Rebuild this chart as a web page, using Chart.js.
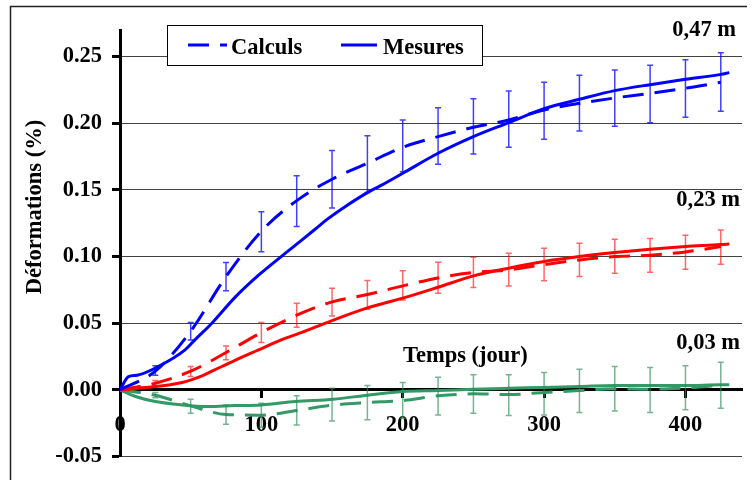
<!DOCTYPE html>
<html><head><meta charset="utf-8">
<script src="https://cdn.jsdelivr.net/npm/chart.js@4.4.0/dist/chart.umd.min.js"></script>
<style>html,body{margin:0;padding:0;background:#fff}canvas{display:block}</style>
</head><body>
<canvas id="c" width="755" height="480"></canvas>
<script>
// ---- data ----
const calcDays = [0,25,50,75,100,125,150,175,200,225,250,275,300,325,350,375,400,425];
const blueCalc = [0,0.014,0.044,0.085,0.119,0.142,0.158,0.170,0.182,0.190,0.197,0.2025,0.210,0.215,0.219,0.2225,0.2263,0.2308];
const redCalc  = [0,0.005,0.014,0.028,0.043,0.056,0.066,0.0715,0.078,0.084,0.088,0.090,0.094,0.0975,0.100,0.101,0.1035,0.1075];
const greenCalc= [0,-0.004,-0.012,-0.0185,-0.019,-0.0155,-0.0115,-0.0095,-0.008,-0.0045,-0.003,-0.0035,-0.002,-0.0005,0.0008,0.0005,0.0015,0.0035];

const errDays = [25,50,75,100,125,150,175,200,225,250,275,300,325,350,375,400,425];
const blueErrLow  = [0.011,0.0375,0.0743,0.1037,0.1225,0.1365,0.148,0.1637,0.1693,0.177,0.182,0.188,0.1943,0.1978,0.2005,0.2045,0.209];
const blueErrHigh = [0.018,0.0505,0.0955,0.1337,0.1607,0.1795,0.1907,0.2025,0.2117,0.2185,0.2243,0.2308,0.236,0.240,0.2435,0.2477,0.253];
const redErrLow   = [0.003,0.010,0.0225,0.0355,0.047,0.0555,0.0605,0.0675,0.0725,0.0768,0.078,0.0818,0.085,0.0875,0.0883,0.0905,0.0943];
const redErrHigh  = [0.007,0.0175,0.033,0.0505,0.065,0.0763,0.082,0.0893,0.0958,0.0995,0.1025,0.1062,0.110,0.113,0.1135,0.116,0.120];
const greenErrLow = [-0.006,-0.0175,-0.0258,-0.028,-0.0263,-0.0233,-0.0225,-0.0213,-0.0188,-0.0175,-0.0193,-0.0188,-0.017,-0.0158,-0.017,-0.015,-0.0138];
const greenErrHigh= [-0.002,-0.007,-0.0113,-0.010,-0.0045,0.0013,0.0033,0.0055,0.0095,0.0113,0.0113,0.013,0.0155,0.0175,0.0168,0.018,0.0207];

const blueMesDays = [0,6,12,27,46,53,65,81,98,114,127,138,146,160,175,184,200,225,250,275,300,325,350,375,400,425,431];
const blueMes     = [0,0.010,0.011,0.0175,0.030,0.0375,0.050,0.069,0.086,0.1,0.111,0.1205,0.1275,0.138,0.148,0.153,0.1625,0.1775,0.190,0.2005,0.211,0.218,0.2245,0.229,0.233,0.2367,0.238];
const redMesDays  = [0,18,44,58,67,81,98,114,127,138,150,175,200,225,250,275,300,325,350,375,400,425,431];
const redMes      = [0,0.0017,0.0055,0.0105,0.015,0.022,0.030,0.0375,0.0425,0.047,0.052,0.0615,0.0688,0.077,0.0855,0.0913,0.0963,0.100,0.103,0.1055,0.1075,0.109,0.1095];
const greenMesDays= [0,11,25,44,62,81,100,124,151,175,200,225,250,275,300,325,350,375,400,425,431];
const greenMes    = [0,-0.005,-0.0088,-0.0113,-0.0125,-0.0118,-0.0113,-0.0088,-0.007,-0.004,-0.0013,-0.0005,0.0005,0.0012,0.0018,0.0025,0.0033,0.0033,0.0033,0.0038,0.0038];

const xTickValues = [0,100,200,300,400];
const seriesLabels = ['Calculs','Mesures'];
const depthLabels = ['0,47 m','0,23 m','0,03 m'];
const xTitle = 'Temps (jour)';
const yTitle = 'Déformations (%)';

// ---- styles ----
const FONT = '"Liberation Serif", "Times New Roman", serif';
const FS = 22.5;
const BLUE = '#0000ff', RED = '#ff0000', GREEN = '#339966';
const DASH = [21, 11];

function pts(days, vals){ return days.map((d,i)=>({x:d, y:vals[i]})); }
function lineDs(label, days, vals, color, dashed){
  return {label, data: pts(days, vals), borderColor: color, backgroundColor: color,
    borderWidth: 3, borderDash: dashed ? DASH : [], pointRadius: 0,
    cubicInterpolationMode: 'monotone', fill: false};
}

const errorSets = [
  {low: blueErrLow, high: blueErrHigh, color: 'rgba(0,0,255,0.75)'},
  {low: redErrLow, high: redErrHigh, color: 'rgba(255,0,0,0.6)'},
  {low: greenErrLow, high: greenErrHigh, color: 'rgba(46,139,87,0.65)'}
];

const decor = {
  id: 'decor',
  afterDatasetsDraw(chart){
    const ctx = chart.ctx, xs = chart.scales.x, ys = chart.scales.y;
    ctx.save();
    ctx.lineWidth = 1.5;
    errorSets.forEach(s=>{
      ctx.strokeStyle = s.color;
      errDays.forEach((d,i)=>{
        const x = xs.getPixelForValue(d);
        const y1 = ys.getPixelForValue(s.low[i]);
        const y2 = ys.getPixelForValue(s.high[i]);
        ctx.beginPath();
        ctx.moveTo(x, y1); ctx.lineTo(x, y2);
        ctx.moveTo(x-3, y1); ctx.lineTo(x+3, y1);
        ctx.moveTo(x-3, y2); ctx.lineTo(x+3, y2);
        ctx.stroke();
      });
    });
    ctx.restore();
  },
  afterDraw(chart){
    const ctx = chart.ctx;
    ctx.save();
    // outer frame (top + left visible)
    ctx.strokeStyle = '#222'; ctx.lineWidth = 1.5;
    ctx.beginPath(); ctx.moveTo(10.5, 480); ctx.lineTo(10.5, 6.5); ctx.lineTo(747, 6.5); ctx.stroke();
    // legend
    ctx.fillStyle = '#fff';
    ctx.fillRect(167, 25, 315, 40);
    ctx.strokeStyle = '#000'; ctx.lineWidth = 1;
    ctx.strokeRect(167.5, 25.5, 315, 40);
    ctx.strokeStyle = BLUE; ctx.lineWidth = 3;
    ctx.setLineDash(DASH);
    ctx.beginPath(); ctx.moveTo(188, 45); ctx.lineTo(227, 45); ctx.stroke();
    ctx.setLineDash([]);
    ctx.beginPath(); ctx.moveTo(341, 45); ctx.lineTo(377, 45); ctx.stroke();
    ctx.fillStyle = '#000';
    ctx.font = 'bold ' + FS + 'px ' + FONT;
    ctx.textBaseline = 'alphabetic';
    ctx.textAlign = 'left';
    ctx.fillText(seriesLabels[0], 231, 54);
    ctx.fillText(seriesLabels[1], 383, 54);
    // depth labels
    ctx.textAlign = 'right';
    ctx.fillText(depthLabels[0], 736, 36);
    ctx.fillText(depthLabels[1], 740, 206);
    ctx.fillText(depthLabels[2], 740, 349);
    // x title
    ctx.textAlign = 'left';
    ctx.fillText(xTitle, 403, 362);
    // y title
    ctx.translate(41, 207);
    ctx.rotate(-Math.PI/2);
    ctx.textAlign = 'center';
    ctx.fillText(yTitle, 0, 0);
    ctx.restore();
  }
};

Chart.defaults.font.family = FONT;
Chart.defaults.font.size = FS;
Chart.defaults.font.weight = 'bold';
Chart.defaults.color = '#000';

new Chart(document.getElementById('c'), {
  type: 'line',
  data: {
    datasets: [
      lineDs(seriesLabels[0], calcDays, blueCalc, BLUE, true),
      lineDs(seriesLabels[1], blueMesDays, blueMes, BLUE, false),
      lineDs(seriesLabels[0], calcDays, redCalc, RED, true),
      lineDs(seriesLabels[1], redMesDays, redMes, RED, false),
      lineDs(seriesLabels[0], calcDays, greenCalc, GREEN, true),
      lineDs(seriesLabels[1], greenMesDays, greenMes, GREEN, false)
    ]
  },
  options: {
    responsive: false,
    animation: false,
    devicePixelRatio: 1,
    layout: {padding: {left: 0, top: 30, right: 13, bottom: 23}},
    plugins: {legend: {display: false}, tooltip: {enabled: false}},
    scales: {
      x: {
        type: 'linear', min: 0, max: 440,
        position: {y: 0},
        afterBuildTicks(scale){ scale.ticks = xTickValues.map(v=>({value: v})); },
        ticks: {padding: 15, includeBounds: false, maxRotation: 0, autoSkip: false,
                callback: v => String(v), font: {size: FS, weight: 'bold', family: FONT}, color: '#000'},
        grid: {drawOnChartArea: false, drawTicks: true, tickLength: 7, tickColor: '#000', tickWidth: 3},
        border: {display: true, color: '#000', width: 3}
      },
      y: {
        type: 'linear', min: -0.05, max: 0.27,
        afterFit(scale){ scale.width = 120; },
        ticks: {stepSize: 0.05, includeBounds: false, padding: 10,
                callback: v => Number(v).toFixed(2), font: {size: FS, weight: 'bold', family: FONT}, color: '#000'},
        grid: {color: '#444', lineWidth: 1, drawTicks: true, tickLength: 8, tickColor: '#000', tickWidth: 3},
        border: {display: true, color: '#000', width: 3}
      }
    }
  },
  plugins: [decor]
});
</script>
</body></html>
